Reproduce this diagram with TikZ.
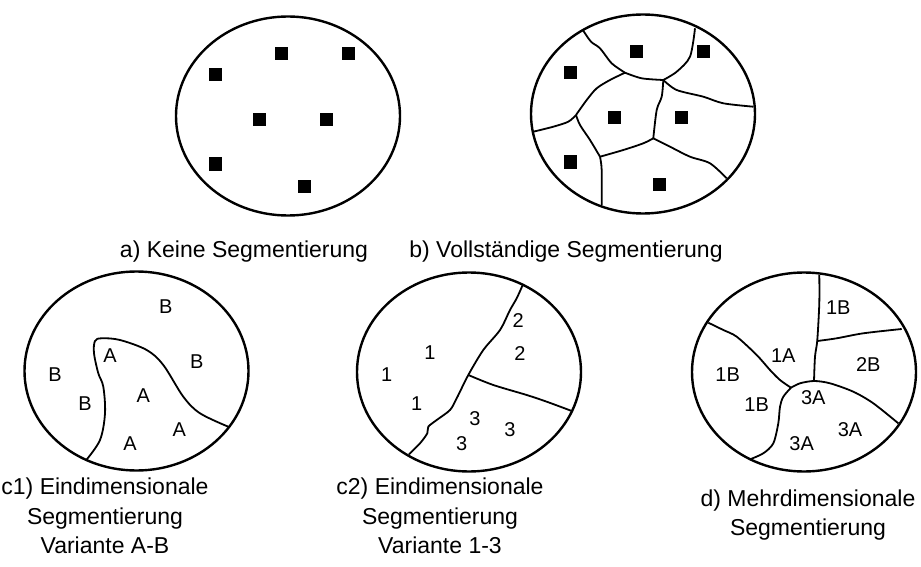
\documentclass[tikz,border=0pt]{standalone}
\usepackage{fontspec}
\setmainfont{Liberation Sans}
\usetikzlibrary{shapes.geometric,calc}

\begin{document}
\begin{tikzpicture}[
      x=1pt, y=-1pt,
      market/.style={ellipse, draw, line width=2.4pt, minimum width=224pt, minimum height=199pt, inner sep=0pt},
      seed/.style={rectangle, fill=black, minimum size=13pt, inner sep=0pt},
      border/.style={line width=1.8pt, line join=round},
      seg/.style={font=\fontsize{20}{23}\selectfont, inner sep=0pt},
      caption/.style={font=\fontsize{23}{29.5}\selectfont, align=center, inner sep=0pt}
    ]
    \useasboundingbox (0,0) rectangle (921,567);

    % Top row: no segmentation and complete segmentation
    \node[market] (none) at (288,116) {};
    \node[market] (full) at (643,114) {};

    \foreach \dx/\dy [count=\i] in {-6.5/-62.5, 60.5/-62.5, -72.5/-41, -28.5/3.5, 38.5/3.5, -72.5/48, 16.5/70.5} {
      \node[seed] (none-\i) at ($(288,116)+(\dx,\dy)$) {};
      \node[seed] (full-\i) at ($(643,114)+(\dx,\dy)$) {};
    }

    % cell borders of the complete segmentation
    \coordinate (v1) at (625,72.7);
    \coordinate (v2) at (663.3,80);
    \coordinate (v3) at (653.3,138.3);
    \coordinate (v4) at (576,115);
    \coordinate (v5) at (600,156.7);
    \draw[border] plot[smooth, tension=0.5] coordinates {(583.3,30.7) (591,41.7) (600,48.3) (611.7,63.3) (v1)};
    \draw[border] plot[smooth, tension=0.5] coordinates {(v1) (641.7,78.3) (v2)};
    \draw[border] plot[smooth, tension=0.5] coordinates {(v2) (676.7,71.7) (690,56.7) (695,28.3)};
    \draw[border] plot[smooth, tension=0.5] coordinates {(v2) (676.7,90) (703.3,96.7) (723.3,103.3) (753.3,106.7)};
    \draw[border] plot[smooth, tension=0.5] coordinates {(v2) (661.7,96.7) (656.7,110) (v3)};
    \draw[border] plot[smooth, tension=0.5] coordinates {(v1) (610,80) (596.7,88.3) (586.7,100) (v4)};
    \draw[border] plot[smooth, tension=0.5] coordinates {(v4) (568.3,121.7) (553.3,126.7) (533.3,131.7)};
    \draw[border] plot[smooth, tension=0.5] coordinates {(v4) (580,125) (590,140) (v5)};
    \draw[border] plot[smooth, tension=0.5] coordinates {(v5) (601.7,170) (601.7,205)};
    \draw[border] plot[smooth, tension=0.5] coordinates {(v5) (623.3,150) (643.3,143.3) (v3)};
    \draw[border] plot[smooth, tension=0.5] coordinates {(v3) (670,146.7) (690,156.7) (710,163.3) (726.7,178.3)};

    \node[caption] (capa) at (244,252) {a) Keine Segmentierung};
    \node[caption] (capb) at (566,252) {b) Vollständige Segmentierung};

    % Bottom row: one-dimensional variants and multi-dimensional segmentation
    \node[market] (varab) at (136.5,371) {};
    \node[market] (var13) at (469,372) {};
    \node[market] (multi) at (804,372) {};

    % variant A-B
    \draw[border] plot[smooth, tension=0.55] coordinates {(85.7,460.7) (100,440) (105,413.3) (103.3,386.7) (98.3,373.3) (94,353.3) (95,341) (101.7,338.3) (120,340) (146.7,350) (163.3,365) (183.3,396.7) (200,413.3) (228.3,426.7)};
    \node[seg] (b1) at (165.7,306.7) {B};
    \node[seg] (a1) at (110,356) {A};
    \node[seg] (b2) at (196.7,361.7) {B};
    \node[seg] (b3) at (55,374.3) {B};
    \node[seg] (a2) at (143.3,396) {A};
    \node[seg] (b4) at (85,403.3) {B};
    \node[seg] (a3) at (179.3,429.3) {A};
    \node[seg] (a4) at (130,443.3) {A};

    % variant 1-3
    \coordinate (j13) at (468.3,375);
    \draw[border] plot[smooth, tension=0.5] coordinates {(409,454.3) (420,443.3) (427.3,433.3) (428.3,426.7) (436.7,420) (450,410) (456.7,398.3) (j13) (483.3,350) (500,330) (510,310) (516.7,298.3) (522.7,285)};
    \draw[border] plot[smooth, tension=0.5] coordinates {(j13) (493.3,385) (526.7,395) (546.7,401.7) (571,410.7)};
    \node[seg] (t1) at (518.3,320.7) {2};
    \node[seg] (t2) at (520,353.3) {2};
    \node[seg] (o1) at (430,352.7) {1};
    \node[seg] (o2) at (386.7,374.3) {1};
    \node[seg] (o3) at (416.7,404) {1};
    \node[seg] (h1) at (475,418.3) {3};
    \node[seg] (h2) at (510,430) {3};
    \node[seg] (h3) at (461.7,443.3) {3};

    % multi-dimensional
    \coordinate (jm) at (814,381);
    \coordinate (jl) at (791,387.7);
    \draw[border] plot[smooth, tension=0.5] coordinates {(819.3,275) (819.3,303.3) (817.3,340) (815,356.7) (jm)};
    \draw[border] plot[smooth, tension=0.5] coordinates {(817.3,341) (836.7,338.3) (863.3,333.3) (901.7,329)};
    \draw[border] plot[smooth, tension=0.5] coordinates {(708.3,322.7) (723.3,330) (736.7,336.7) (756.7,355) (770,370) (780,380) (jl)};
    \draw[border] plot[smooth, tension=0.5] coordinates {(jl) (800,383.3) (jm) (830,383.3) (853.3,391.7) (873.3,403.3) (898.3,423.3)};
    \draw[border] plot[smooth, tension=0.5] coordinates {(jl) (783.3,396.7) (780,406.7) (778.3,423.3) (773.3,443.3) (763.3,453.3) (750,459.3)};
    \node[seg] (m1) at (838.3,307.3) {1B};
    \node[seg] (m2) at (783.3,356) {1A};
    \node[seg] (m3) at (868.3,364.3) {2B};
    \node[seg] (m4) at (727.7,374.3) {1B};
    \node[seg] (m5) at (813.3,397.3) {3A};
    \node[seg] (m6) at (756.7,405) {1B};
    \node[seg] (m7) at (850,429.3) {3A};
    \node[seg] (m8) at (801.7,443.3) {3A};

    \node[caption] (capc1) at (105,516) {c1) Eindimensionale\\Segmentierung\\Variante A-B};
    \node[caption] (capc2) at (440,516) {c2) Eindimensionale\\Segmentierung\\Variante 1-3};
    \node[caption] (capd) at (808,515) {d) Mehrdimensionale\\Segmentierung};

  \end{tikzpicture}
\end{document}
